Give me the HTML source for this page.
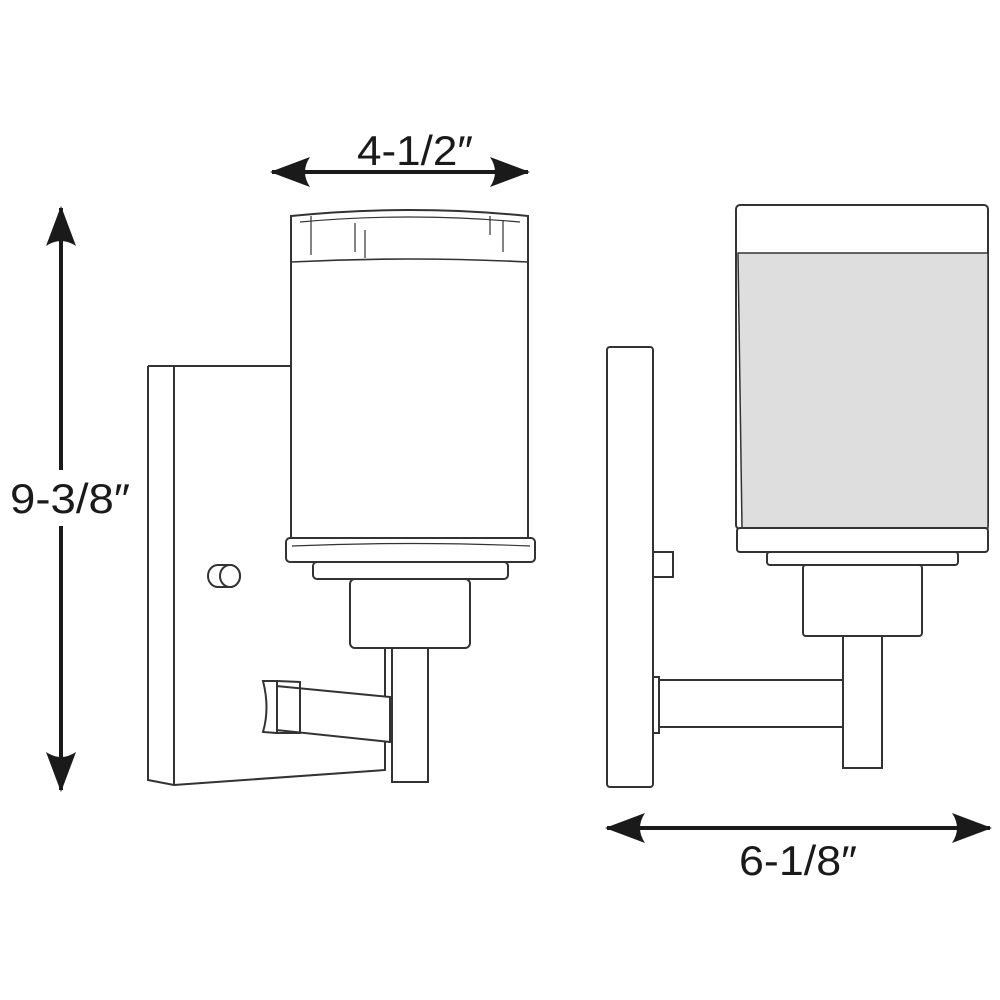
<!DOCTYPE html>
<html><head><meta charset="utf-8"><style>
html,body{margin:0;padding:0;background:#fff;}
svg{display:block;}
text{font-family:"Liberation Sans",sans-serif;fill:#1a1a1a;}
</style></head><body>
<svg width="1000" height="1000" viewBox="0 0 1000 1000" xmlns="http://www.w3.org/2000/svg">
<defs>
<marker id="ah" viewBox="0 0 40 30" refX="38" refY="15" markerWidth="40" markerHeight="30" markerUnits="userSpaceOnUse" orient="auto-start-reverse">
<path d="M0,0 L40,15 L0,30 Q10,15 0,0 Z" fill="#1a1a1a"/>
</marker>
</defs>
<g fill="none" stroke="#333" stroke-width="2">
<path d="M148,366 L290,366" />
<path d="M148,366 L148,780 L174,785 L385,770 L385,742"/>
<path d="M174,366 L174,785"/>
<path d="M385,648 L385,680"/>
<path d="M291,216 Q409,204 528,216 L528,540 L291,540 Z" fill="#fff"/>
<path d="M291,262 Q409,256 528,262" stroke-width="1.6"/>
<path d="M300,222 Q409,212 520,222" stroke-width="1.2"/>
<path d="M311,216 L311,255 M355,223 L355,252 M365,230 L365,258 M490,216 L490,235 M503,220 L503,252" stroke-width="1.2"/>
<rect x="286" y="538" width="249" height="24" rx="4" fill="#fff"/>
<path d="M292,546 Q410,541 530,546" stroke-width="1.2"/>
<rect x="313" y="562" width="195" height="17" rx="4" fill="#fff"/>
<rect x="350" y="579" width="120" height="69" rx="5" fill="#fff"/>
<rect x="392" y="648" width="36" height="134" fill="#fff"/>
<path d="M385,648 L385,770"/>
<path d="M276,686 L390,697 L390,742 L276,730 Z" fill="#fff"/>
<path d="M263,681 L277,681 L277,733 L263,732 Q270,708 263,681 Z" fill="#fff"/>
<path d="M277,681 L300,682 L300,733 L277,733" />
<path d="M218,565 L230,565 A10,11 0 0 1 230,587 L218,587 A10,11 0 0 1 218,565 Z" fill="#fff"/>
<ellipse cx="230" cy="576" rx="10" ry="11" fill="#fff"/>

<rect x="607" y="347" width="46" height="440" rx="3" fill="#fff"/>
<rect x="653" y="552" width="20" height="25" fill="#fff"/>
<rect x="736" y="205" width="252" height="324" rx="4" fill="#fff"/>
<path d="M738,253 L988,253 L988,528 L742,528 Z" fill="#dedede" stroke-width="1.5"/>
<rect x="737" y="528" width="251" height="24" rx="3" fill="#fff"/>
<rect x="767" y="552" width="191" height="13" rx="3" fill="#fff"/>
<rect x="803" y="565" width="119" height="71" rx="3" fill="#fff"/>
<rect x="843" y="636" width="39" height="132" fill="#fff"/>
<path d="M659,680 L843,680 M659,727 L843,727"/>
<rect x="653" y="677" width="6" height="56" fill="#fff"/>
</g>

<g stroke="#1a1a1a" stroke-width="4" fill="none">
<line x1="272" y1="172" x2="528" y2="172" marker-start="url(#ah)" marker-end="url(#ah)"/>
<line x1="61" y1="208" x2="61" y2="790" marker-start="url(#ah)" marker-end="url(#ah)"/>
<line x1="607" y1="828" x2="990" y2="828" marker-start="url(#ah)" marker-end="url(#ah)"/>
</g>
<rect x="8" y="470" width="124" height="56" fill="#fff"/>
<text x="357" y="165" font-size="42" textLength="116" lengthAdjust="spacingAndGlyphs">4-1/2″</text>
<text x="10" y="513" font-size="42" textLength="120" lengthAdjust="spacingAndGlyphs">9-3/8″</text>
<text x="739" y="875" font-size="42" textLength="118" lengthAdjust="spacingAndGlyphs">6-1/8″</text>
</svg>
</body></html>
